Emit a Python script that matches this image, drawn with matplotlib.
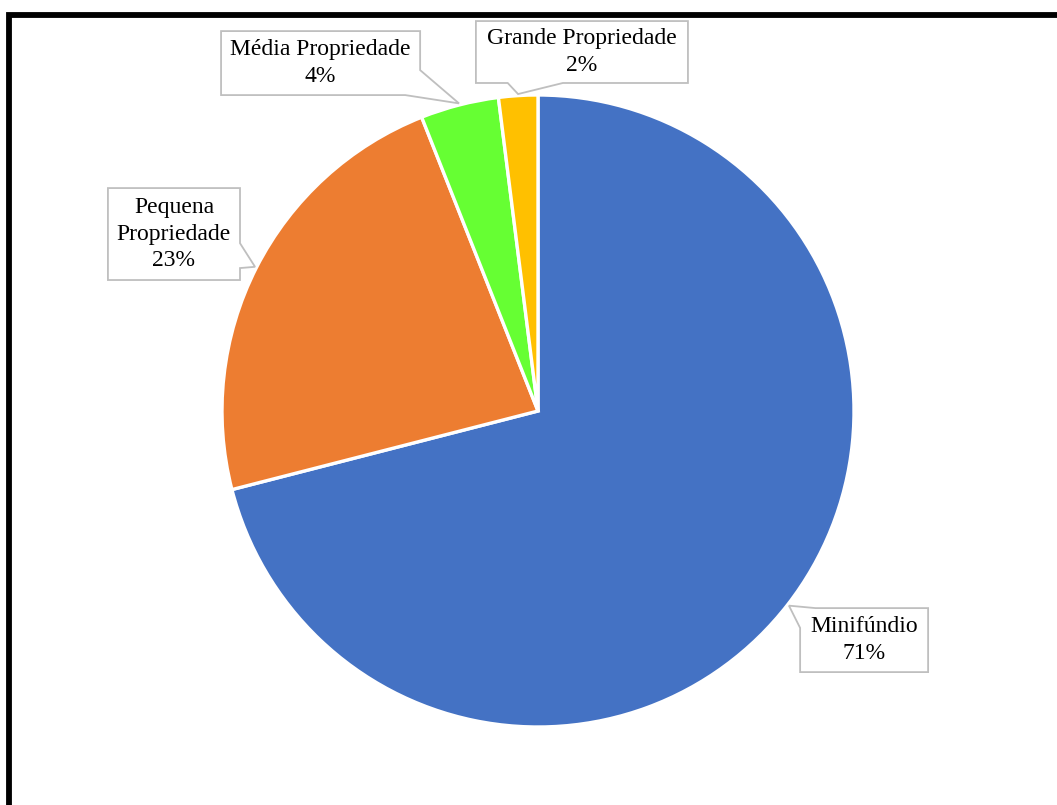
import matplotlib.pyplot as plt
from matplotlib.patches import Polygon, Rectangle
import numpy as np

# property size classes and their share of establishments (%)
categories = ["Minifúndio", "Pequena\nPropriedade", "Média Propriedade", "Grande Propriedade"]
shares = [71, 23, 4, 2]
colors = ["#4472C4", "#ED7D31", "#66FF33", "#FFC000"]

# callout boxes: centre (x, y), width, height in pie-radius units,
# plus where the pointer leaves the box perimeter (t1, t2)
box_centres = [(1.032, -0.725), (-1.152, 0.560), (-0.688, 1.101), (0.139, 1.136)]
box_sizes = [(0.405, 0.2025), (0.418, 0.291), (0.630, 0.2025), (0.671, 0.196)]
pointer_span = [(2.88, 3.31), (1.13, 1.40), (0.925, 1.39), (0.15, 0.41)]


def perim_point(x0, y0, w, h, t):
    # walk the box edge: bottom (L->R), right (B->T), top (R->L), left (T->B)
    side = int(t) % 4
    f = t - int(t)
    if side == 0:
        return (x0 + f * w, y0)
    if side == 1:
        return (x0 + w, y0 + f * h)
    if side == 2:
        return (x0 + w - f * w, y0 + h)
    return (x0, y0 + h - f * h)


def callout(ax, cx, cy, w, h, t1, t2, tip):
    x0, y0 = cx - w / 2, cy - h / 2
    pts = []
    for k in range(4):
        if k < t1:
            pts.append(perim_point(x0, y0, w, h, k))
    pts.append(perim_point(x0, y0, w, h, t1))
    pts.append(tip)
    pts.append(perim_point(x0, y0, w, h, t2))
    for k in range(1, 5):
        if k > t2:
            pts.append(perim_point(x0, y0, w, h, k % 4 if k < 4 else 0))
    ax.add_patch(Polygon(pts, closed=True, facecolor="white",
                         edgecolor="#BFBFBF", linewidth=1.3, zorder=3))


fig = plt.figure(figsize=(10.57, 8.05), dpi=100)
ax = fig.add_axes([0, 0, 1, 1])
ax.set_aspect("equal")
ax.axis("off")

wedges, _ = ax.pie(shares, colors=colors, startangle=90, counterclock=False,
                   radius=1.0, center=(0, 0),
                   wedgeprops=dict(edgecolor="white", linewidth=2.4))

r_px = 316.0
ax.set_xlim(-538 / r_px, (1057 - 538) / r_px)
ax.set_ylim(-394 / r_px, 411 / r_px)

for wdg, name, val, (cx, cy), (w, h), (t1, t2) in zip(
        wedges, categories, shares, box_centres, box_sizes, pointer_span):
    mid = np.deg2rad((wdg.theta1 + wdg.theta2) / 2)
    tip = (1.005 * np.cos(mid), 1.005 * np.sin(mid))
    callout(ax, cx, cy, w, h, t1, t2, tip)
    ax.text(cx, cy, f"{name}\n{val}%", ha="center", va="center",
            fontsize=17, family="Liberation Serif", linespacing=1.34,
            zorder=4)

# thick black frame running off the right and bottom edges
fig.patches.append(Rectangle((8.8 / 1057, -0.2), 1.2, (805 - 14.8) / 805 + 0.2,
                             transform=fig.transFigure, fill=False,
                             edgecolor="black", linewidth=4.2, zorder=10))

fig.savefig("out.png", dpi=100)
